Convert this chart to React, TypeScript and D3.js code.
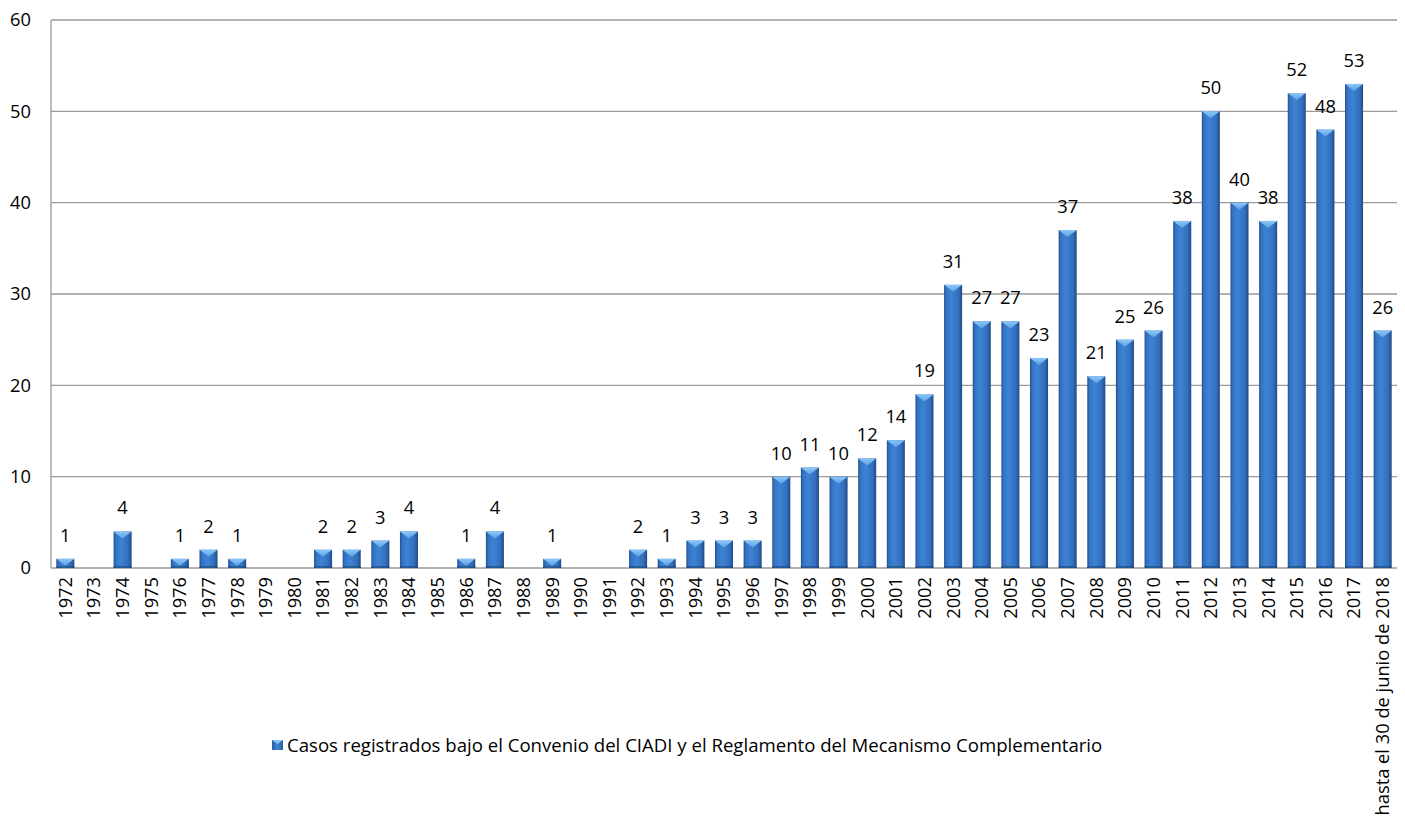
import React from 'react';
import * as d3 from 'd3';

const years = [
  '1972', '1973', '1974', '1975', '1976', '1977', '1978', '1979', '1980', '1981',
  '1982', '1983', '1984', '1985', '1986', '1987', '1988', '1989', '1990', '1991',
  '1992', '1993', '1994', '1995', '1996', '1997', '1998', '1999', '2000', '2001',
  '2002', '2003', '2004', '2005', '2006', '2007', '2008', '2009', '2010', '2011',
  '2012', '2013', '2014', '2015', '2016', '2017', 'hasta el 30 de junio de 2018',
];

const casos = [
  1, 0, 4, 0, 1, 2, 1, 0, 0, 2,
  2, 3, 4, 0, 1, 4, 0, 1, 0, 0,
  2, 1, 3, 3, 3, 10, 11, 10, 12, 14,
  19, 31, 27, 27, 23, 37, 21, 25, 26, 38,
  50, 40, 38, 52, 48, 53, 26,
];

const yTicks = [0, 10, 20, 30, 40, 50, 60];
const seriesName = 'Casos registrados bajo el Convenio del CIADI y el Reglamento del Mecanismo Complementario';

const W = 1405;
const H = 827;
const font = '"Open Sans", Lato, sans-serif';
const fs = 18.3;

export default function App() {
  const x = d3.scaleBand<string>()
    .domain(years)
    .range([51, 1397])
    .paddingInner(0.37)
    .paddingOuter(0.185);
  const y = d3.scaleLinear().domain([0, 60]).range([568, 20]);

  const data = years.map((yr, i) => ({ yr, v: casos[i] }));
  const bw = x.bandwidth();

  return (
    <div style={{ position: 'absolute', left: 0, top: 0 }}>
      <svg width={W} height={H} style={{ display: 'block', fontFamily: font }}>
        <defs>
          <linearGradient id="barGrad" x1="0" x2="1" y1="0" y2="0">
            <stop offset="0%" stopColor="#234f8e" />
            <stop offset="12%" stopColor="#3473c2" />
            <stop offset="40%" stopColor="#3d83d4" />
            <stop offset="80%" stopColor="#336fbd" />
            <stop offset="100%" stopColor="#204a86" />
          </linearGradient>
          <linearGradient id="bevelGrad" x1="0" x2="0" y1="0" y2="1">
            <stop offset="0%" stopColor="#8cc6f6" />
            <stop offset="100%" stopColor="#5aa2e6" />
          </linearGradient>
          <linearGradient id="legGrad" x1="0" x2="1" y1="0" y2="0">
            <stop offset="0%" stopColor="#2a5da6" />
            <stop offset="50%" stopColor="#3d83d4" />
            <stop offset="100%" stopColor="#2a5da6" />
          </linearGradient>
        </defs>

        {/* gridlines */}
        {yTicks.map(t => (
          <line key={t} x1={51} x2={1397} y1={y(t)} y2={y(t)} stroke="#9a9a9a" strokeWidth={1.3} />
        ))}
        <line x1={51} x2={51} y1={y(60)} y2={y(0)} stroke="#9a9a9a" strokeWidth={1.3} />

        {/* y tick labels */}
        {yTicks.map(t => (
          <text key={t} x={31} y={y(t)} dy="0.35em" textAnchor="end" fontSize={fs} fill="#000">{t}</text>
        ))}

        {/* bars */}
        {data.filter(d => d.v > 0).map(d => {
          const x0 = x(d.yr)!;
          const top = y(d.v);
          const h = y(0) - top;
          const depth = Math.min(7, h * 0.8);
          return (
            <g key={d.yr}>
              <rect x={x0} y={top} width={bw} height={h} fill="url(#barGrad)" />
              <rect x={x0} y={y(0) - 2} width={bw} height={2} fill="#1d4477" opacity={0.6} />
              <path d={`M${x0},${top} L${x0 + bw},${top} L${x0 + bw / 2},${top + depth} Z`} fill="url(#bevelGrad)" />
            </g>
          );
        })}

        {/* data labels */}
        {data.filter(d => d.v > 0).map(d => (
          <text key={d.yr} x={x(d.yr)! + bw / 2} y={y(d.v) - 17} textAnchor="middle" fontSize={fs} fill="#000">{d.v}</text>
        ))}

        {/* x labels */}
        {years.map(yr => {
          const cx = x(yr)! + bw / 2;
          return (
            <text key={yr} transform={`translate(${cx},577) rotate(-90)`} dy="0.35em" textAnchor="end" fontSize={fs} fill="#000">{yr}</text>
          );
        })}

        {/* legend */}
        <rect x={272} y={740} width={11} height={10} fill="url(#legGrad)" />
        <path d="M272,740 L283,740 L277.5,744 Z" fill="#8cc6f6" />
        <text x={287} y={745} dy="0.35em" fontSize={18.6} fill="#000">{seriesName}</text>
      </svg>
    </div>
  );
}
